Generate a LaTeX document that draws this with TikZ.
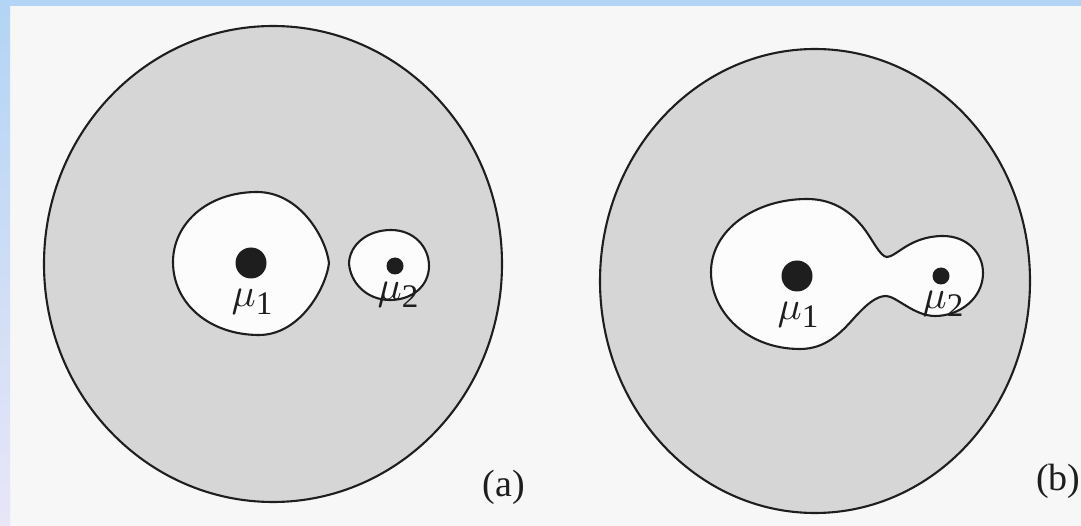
\documentclass[tikz,border=0pt]{standalone}
\usepackage{graphicx}
\usepackage{fontspec}
\setmainfont{Liberation Serif}
\definecolor{paper}{HTML}{F7F7F7}
\definecolor{lobe}{HTML}{FCFCFC}
\definecolor{shadegray}{HTML}{D6D6D6}
\definecolor{topblue}{HTML}{B2D4F5}
\definecolor{lavender}{HTML}{E8E6F7}
\definecolor{ink}{HTML}{1E1E1E}
\newcommand{\mulab}[1]{\scalebox{4}{$\mu$}\raisebox{-8pt}{\fontsize{33}{35}\selectfont #1}}
\begin{document}
\begin{tikzpicture}[x=1pt,y=-1pt,
  outer/.style={draw=ink,line width=2.1pt,fill=shadegray},
  lobeline/.style={draw=ink,line width=2.1pt,fill=lobe,line join=round},
  bigdot/.style={circle,fill=ink,draw=none,minimum size=31pt,inner sep=0pt},
  smalldot/.style={circle,fill=ink,draw=none,minimum size=17pt,inner sep=0pt},
  lab/.style={inner sep=0pt,text=ink},
  captext/.style={inner sep=0pt,text=ink,font=\fontsize{38}{40}\selectfont}]
\useasboundingbox (0,0) rectangle (1081,526);
\fill[paper] (0,0) rectangle (1081,526);
\fill[topblue] (0,0) rectangle (1081,6);
\shade[top color=topblue,bottom color=lavender] (0,0) rectangle (10,526);

% (a)
\draw[outer] (273,264) ellipse [x radius=229, y radius=238];
\draw[lobeline] (329,263) .. controls (326,238) and (300,192) .. (257,192)
  .. controls (207,192) and (173,224) .. (173,262)
  .. controls (173,304) and (210,335) .. (259,335)
  .. controls (300,335) and (326,288) .. (329,263) -- cycle;
\draw[lobeline] (349,263) .. controls (350,244) and (368,230) .. (391,230)
  .. controls (414,230) and (429,247) .. (429,266)
  .. controls (429,286) and (412,300) .. (390,300)
  .. controls (366,300) and (350,282) .. (349,263) -- cycle;
\node[bigdot] (m1a) at (251,263) {};
\node[smalldot] (m2a) at (395,266) {};
\node[lab] (l1a) at (252,302) {\mulab{1}};
\node[lab] (l2a) at (398,295) {\mulab{2}};
\node[captext] (capa) at (504,487) {(a)};

% (b)
\draw[outer] (815,281) ellipse [x radius=215, y radius=232];
\draw[lobeline] (807,199) .. controls (830,199) and (848,209) .. (862,226)
  .. controls (872,238) and (880,257) .. (887,257)
  .. controls (896,257) and (910,236) .. (943,236)
  .. controls (966,236) and (983,252) .. (983,273)
  .. controls (983,298) and (960,316) .. (935,316)
  .. controls (914,316) and (896,296) .. (886,296)
  .. controls (876,296) and (866,305) .. (855,317)
  .. controls (840,334) and (825,349) .. (800,349)
  .. controls (748,349) and (711,313) .. (711,272)
  .. controls (711,230) and (755,199) .. (807,199) -- cycle;
\node[smalldot] (m2b) at (941,276) {};
\node[bigdot] (m1b) at (797,276) {};
\node[lab] (l1b) at (798,315) {\mulab{1}};
\node[lab] (l2b) at (943,304) {\mulab{2}};
\node[captext,anchor=west] (capb) at (1036,481) {(b)};
\end{tikzpicture}
\end{document}
